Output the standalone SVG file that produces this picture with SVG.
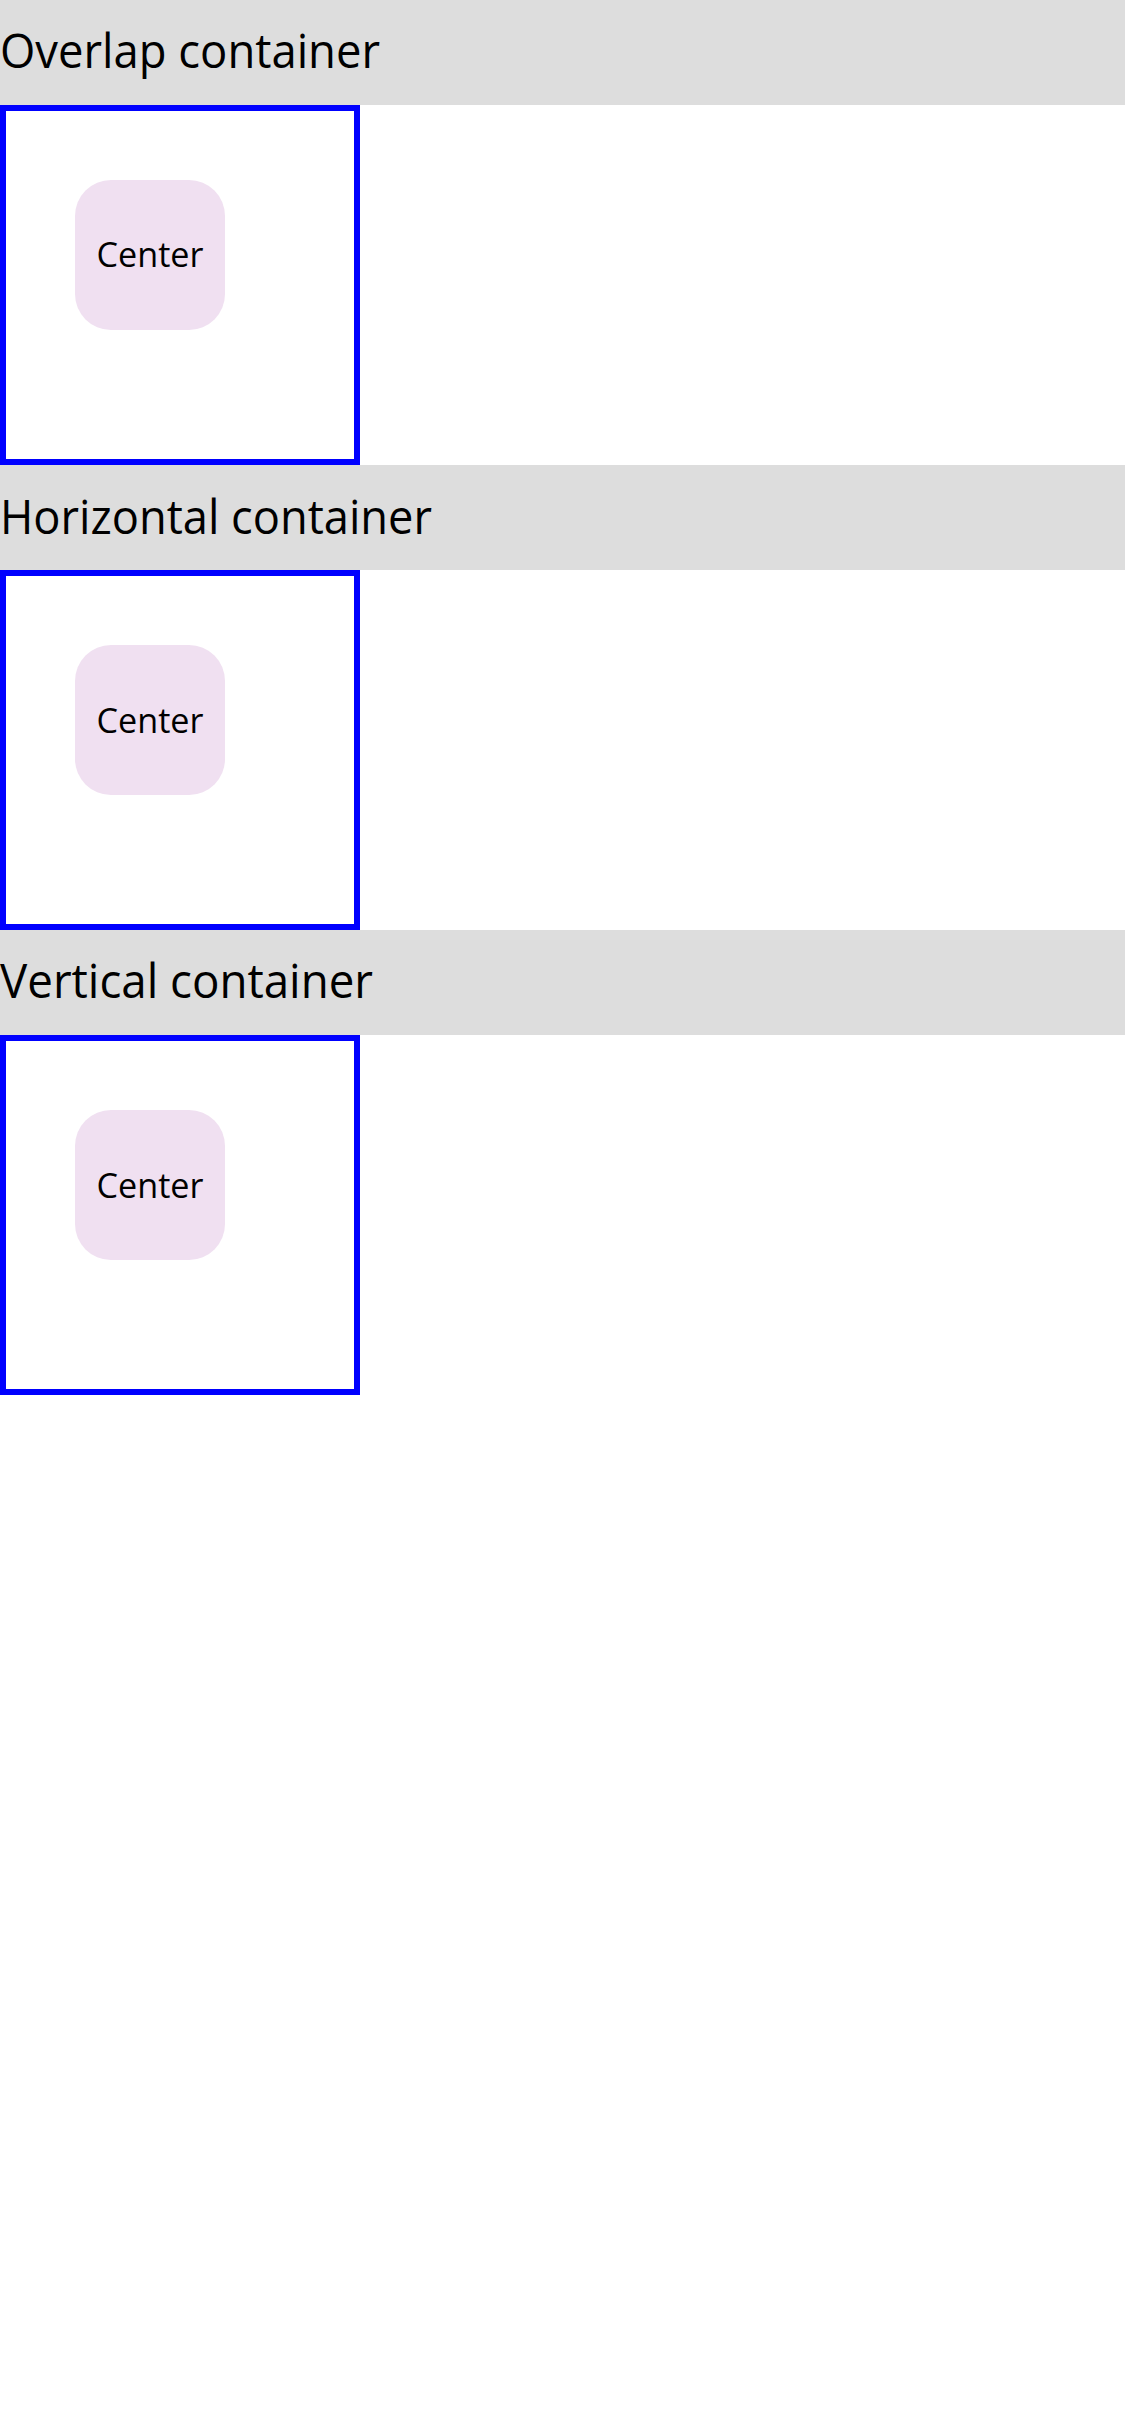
<svg xmlns="http://www.w3.org/2000/svg" width="1125" height="2436" viewBox="0 0 1125 2436">
<style>
.hdr{fill:#DDDDDD}
.htxt{font-family:"Open Sans","Noto Sans",sans-serif;font-size:48px;fill:#000}
.box{fill:#FFFFFF;stroke:#0000FF;stroke-width:6}
.node{fill:#F0E0F1}
.ntxt{font-family:"Open Sans","Noto Sans",sans-serif;font-size:34px;fill:#000;text-anchor:middle}
</style>
<rect width="1125" height="2436" fill="#FFFFFF"/>
<g id="overlap">
<rect class="hdr" x="0" y="0" width="1125" height="105"/>
<text class="htxt" x="0" y="68" textLength="380" lengthAdjust="spacingAndGlyphs">Overlap container</text>
<rect class="box" x="3" y="108" width="354" height="354"/>
<g id="overlap-center">
<rect class="node" x="75" y="180" width="150" height="150" rx="36"/>
<text class="ntxt" x="150" y="267" textLength="107" lengthAdjust="spacingAndGlyphs">Center</text>
</g>
</g>
<g id="horizontal">
<rect class="hdr" x="0" y="465" width="1125" height="105"/>
<text class="htxt" x="0" y="534" textLength="432" lengthAdjust="spacingAndGlyphs">Horizontal container</text>
<rect class="box" x="3" y="573" width="354" height="354"/>
<g id="horizontal-center">
<rect class="node" x="75" y="645" width="150" height="150" rx="36"/>
<text class="ntxt" x="150" y="733" textLength="107" lengthAdjust="spacingAndGlyphs">Center</text>
</g>
</g>
<g id="vertical">
<rect class="hdr" x="0" y="930" width="1125" height="105"/>
<text class="htxt" x="0" y="998" textLength="373" lengthAdjust="spacingAndGlyphs">Vertical container</text>
<rect class="box" x="3" y="1038" width="354" height="354"/>
<g id="vertical-center">
<rect class="node" x="75" y="1110" width="150" height="150" rx="36"/>
<text class="ntxt" x="150" y="1198" textLength="107" lengthAdjust="spacingAndGlyphs">Center</text>
</g>
</g>
<g id="connectors"></g>
</svg>
